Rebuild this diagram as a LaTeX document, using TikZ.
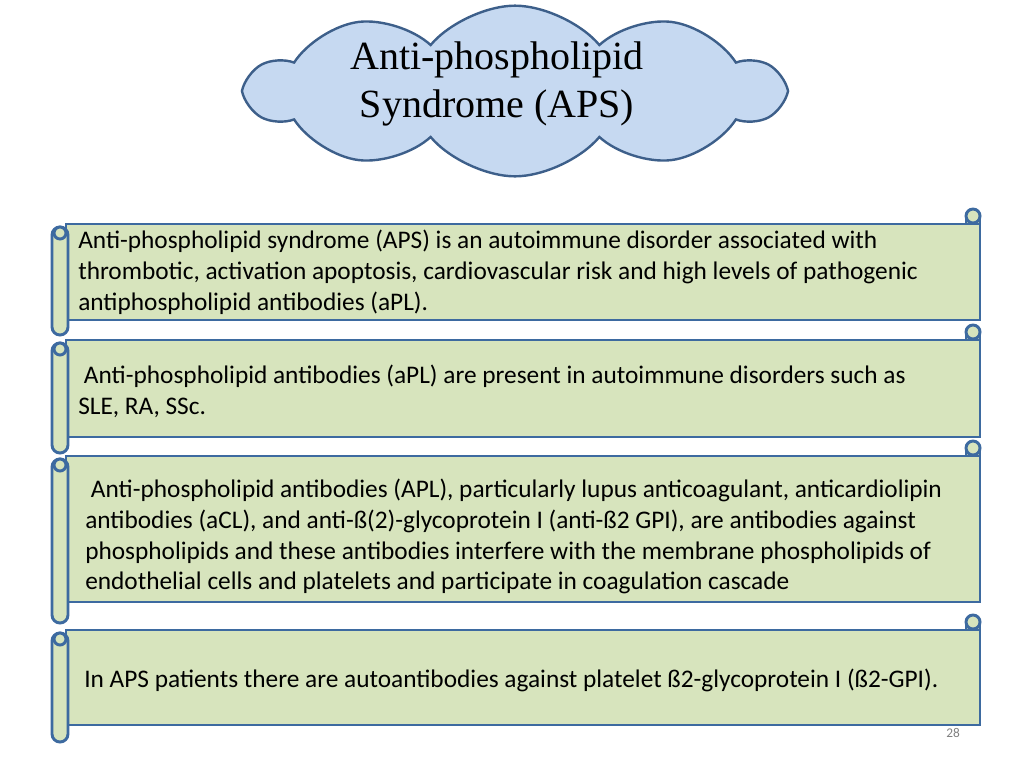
\documentclass[tikz,border=0pt]{standalone}
\usepackage{fontspec}
\setmainfont{Carlito}
\newfontfamily\serifT{Liberation Serif}
\usetikzlibrary{shapes.symbols}
\definecolor{scrfill}{HTML}{D7E4BD}
\definecolor{scrline}{HTML}{3D6AA0}
\definecolor{cloudfill}{HTML}{C6D9F1}
\definecolor{cloudline}{HTML}{3D5F8A}
\tikzset{scr/.style={draw=scrline,fill=scrfill,line width=2.2pt},
 txt/.style={anchor=north west,inner sep=0pt,align=left,font=\fontsize{19}{23}\selectfont}}
\newcommand\myscroll[3]{%
 \draw[scr] (66,#1) rectangle (980,#2);
 \draw[scr] (966,#1-8) rectangle (980,#1);
 \draw[scr] (973,#1-8) circle (7);
 \draw[scr,rounded corners=6] (52,#1+3) rectangle (68,#3);
 \draw[scr] (60,#1+9) circle (6);
}
\begin{document}
\begin{tikzpicture}[x=0.75pt,y=-0.75pt]
\useasboundingbox (0,0) rectangle (1024,768);
\node[cloud,cloud puffs=10,cloud puff arc=100,aspect=3.2,draw=cloudline,fill=cloudfill,line width=1.8pt,minimum width=400pt,minimum height=128pt] (cl) at (515,91) {};
\node[font=\serifT\fontsize{30}{36}\selectfont,align=center] (title) at (497,84) {Anti-phospholipid\\Syndrome (APS)};
\myscroll{224}{320}{335}
\myscroll{340}{437}{453}
\myscroll{456}{602}{623}
\myscroll{630}{725}{742}
\node[txt] (t1) at (78,230) {Anti-phospholipid syndrome (APS) is an autoimmune disorder associated with\\thrombotic, activation apoptosis, cardiovascular risk and high levels of pathogenic\\antiphospholipid antibodies (aPL).};
\node[txt] (t2) at (78,365) {\ Anti-phospholipid antibodies (aPL) are present in autoimmune disorders such as\\SLE, RA, SSc.};
\node[txt] (t3) at (85,479) {\ Anti-phospholipid antibodies (APL), particularly lupus anticoagulant, anticardiolipin\\antibodies (aCL), and anti-ß(2)-glycoprotein I (anti-ß2 GPI), are antibodies against\\phospholipids and these antibodies interfere with the membrane phospholipids of\\endothelial cells and platelets and participate in coagulation cascade};
\node[txt] (t4) at (84,669) {In APS patients there are autoantibodies against platelet ß2-glycoprotein I (ß2-GPI).};
\node[font=\fontsize{10}{12}\selectfont,text=gray] (pg) at (953,733) {28};
\end{tikzpicture}
\end{document}
